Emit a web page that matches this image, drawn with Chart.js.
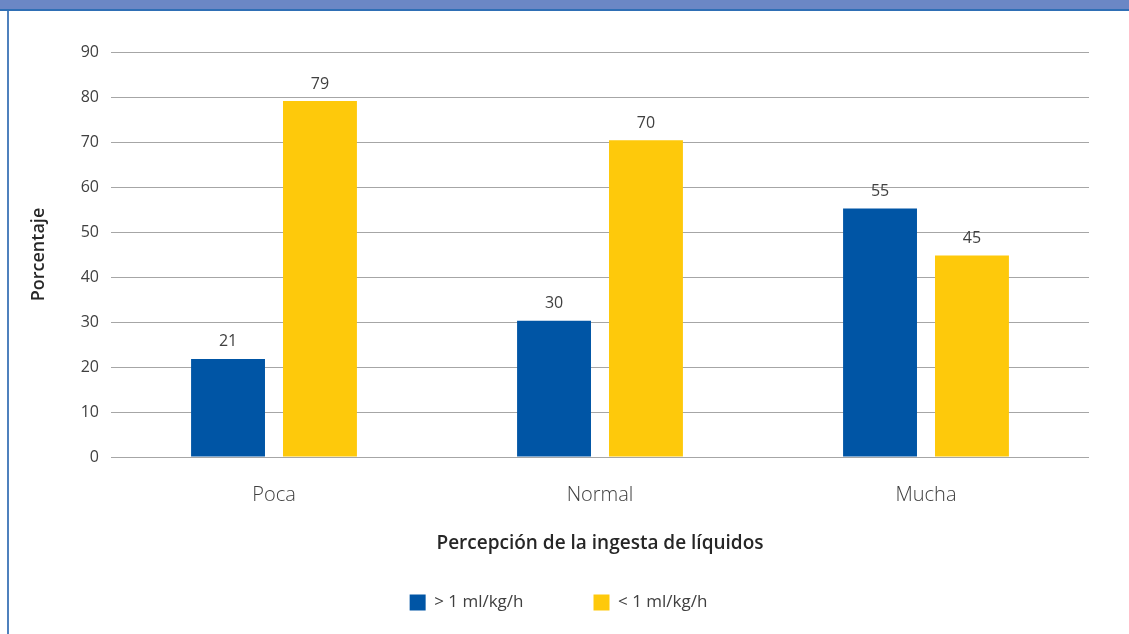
<!DOCTYPE html>
<html>
<head>
<meta charset="utf-8">
<script src="https://cdn.jsdelivr.net/npm/chart.js@4.4.0/dist/chart.umd.min.js"></script>
<style>
  html, body { margin: 0; padding: 0; background: #ffffff; }
  body { width: 1129px; height: 634px; position: relative; overflow: hidden; }
  #band { position: absolute; left: 0; top: 0; width: 1129px; height: 9px; background: #6b87c5; border-bottom: 2px solid #2f6fb5; }
  #leftline { position: absolute; left: 7px; top: 11px; width: 2px; height: 623px; background: #4f81bd; }
  #wrap { position: absolute; left: 0; top: 0; width: 1129px; height: 634px; }
</style>
</head>
<body>
<div id="band"></div>
<div id="leftline"></div>
<div id="wrap"><canvas id="c" width="1129" height="634"></canvas></div>
<script>
const categories = ['Poca', 'Normal', 'Mucha'];
const seriesNames = ['> 1 ml/kg/h', '< 1 ml/kg/h'];
const overOne = [21.8, 30.3, 55.2];
const underOne = [79.1, 70.4, 44.8];
const overOneLabels = ['21', '30', '55'];
const underOneLabels = ['79', '70', '45'];
const yTicks = [0, 10, 20, 30, 40, 50, 60, 70, 80, 90];

const FONT = "'Open Sans', 'Noto Sans', sans-serif";
const TXT = '#404040';

const valueLabels = {
  id: 'valueLabels',
  afterDatasetsDraw(chart) {
    const ctx = chart.ctx;
    const sets = [overOneLabels, underOneLabels];
    ctx.save();
    ctx.font = "16px " + FONT;
    ctx.fillStyle = TXT;
    ctx.textAlign = 'center';
    ctx.textBaseline = 'middle';
    chart.data.datasets.forEach((ds, di) => {
      chart.getDatasetMeta(di).data.forEach((bar, i) => {
        ctx.fillText(sets[di][i], bar.x, bar.y - 17);
      });
    });
    ctx.restore();
  }
};

new Chart(document.getElementById('c'), {
  type: 'bar',
  data: {
    labels: categories,
    datasets: [
      { label: seriesNames[0], data: overOne, backgroundColor: '#0055a5', borderWidth: 0,
        categoryPercentage: 0.564, barPercentage: 0.804 },
      { label: seriesNames[1], data: underOne, backgroundColor: '#fec90b', borderWidth: 0,
        categoryPercentage: 0.564, barPercentage: 0.804 }
    ]
  },
  options: {
    responsive: false,
    animation: false,
    events: [],
    layout: { padding: { left: 28, right: 40, top: 52, bottom: 13 } },
    plugins: {
      legend: {
        position: 'bottom',
        labels: {
          boxWidth: 16, boxHeight: 16, padding: 70,
          color: TXT, font: { family: FONT, size: 17 }
        }
      },
      tooltip: { enabled: false },
      title: { display: false }
    },
    scales: {
      x: {
        grid: { display: false },
        border: { display: false },
        ticks: { color: TXT, font: { family: FONT, size: 20, weight: '300' }, padding: 18 },
        title: { display: true, text: 'Percepción de la ingesta de líquidos', color: '#262626',
                 font: { family: FONT, size: 19, weight: '600' }, padding: { top: 0, bottom: -31 } },
        afterFit(scale) { scale.height = 67; }
      },
      y: {
        min: 0, max: 90,
        afterBuildTicks(scale) { scale.ticks = yTicks.map(v => ({ value: v })); },
        grid: { color: '#a6a6a6', lineWidth: 1, drawTicks: true, tickLength: 0 },
        border: { display: false },
        ticks: { color: TXT, font: { family: FONT, size: 16 }, padding: 12 },
        title: { display: true, text: 'Porcentaje', color: '#262626',
                 font: { family: FONT, size: 18, weight: '600' }, padding: { top: 0, bottom: 8 } },
        afterFit(scale) { scale.width = 83; }
      }
    }
  },
  plugins: [valueLabels]
});
</script>
</body>
</html>
